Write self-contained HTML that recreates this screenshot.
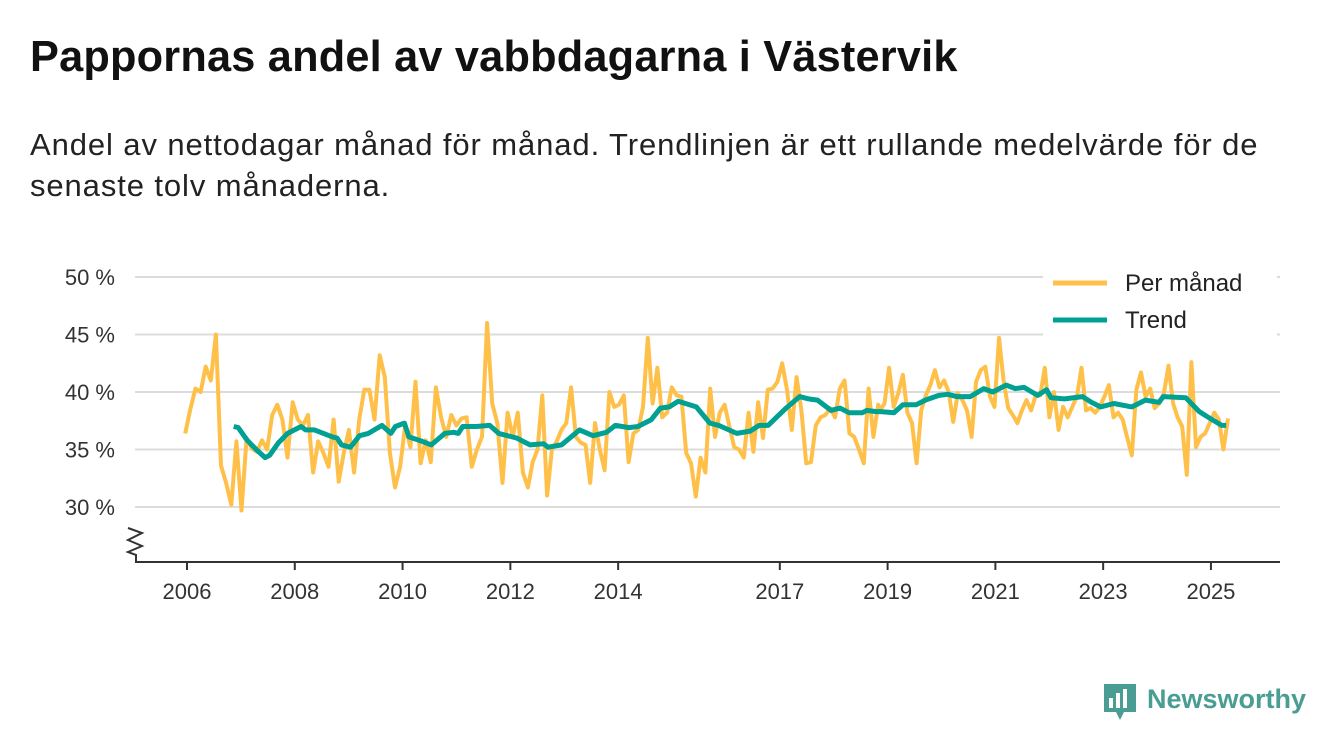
<!DOCTYPE html>
<html><head><meta charset="utf-8">
<style>
body{margin:0;background:#fff;width:1340px;height:753px;overflow:hidden;font-family:"Liberation Sans",sans-serif;}
#title{position:absolute;left:30px;top:33px;font-size:43.3px;font-weight:bold;color:#111;margin:0;letter-spacing:0.2px;white-space:nowrap}
#sub{position:absolute;left:30px;top:124px;font-size:31px;letter-spacing:0.9px;line-height:41px;color:#222;width:1300px;white-space:nowrap}
svg{position:absolute;left:0;top:0}
</style></head><body>
<h1 id="title">Pappornas andel av vabbdagarna i Västervik</h1>
<div id="sub">Andel av nettodagar månad för månad. Trendlinjen är ett rullande medelvärde för de<br>senaste tolv månaderna.</div>
<svg id="chart" width="1340" height="753"></svg>
<script>
// months counted from January 2006
const monthlyA = [36.4,38.5,40.3,40.0,42.2,41,45,33.6,32.1,30.2,35.7,29.7,36,35.1,34.8,35.8,35,38,38.9,37.6,34.3,39.1,37.6,37.1,38,33,35.7,34.7,33.5,37.6,32.2,34.7,36.7,33,37.6,40.2,40.2,37.6,43.2,41.3,34.7,31.7,33.5,37.1,35.2,40.9,33.8,35.8,33.9,40.4,37.8,36.1,38,37.1,37.7,37.8,33.5,35,36.1,46,39,37.3,32.1,38.2,36.1,38.2,33];
const monthlyAspan = [-0.4, 74.8];
const monthlyB = [31.7,33.9,35,39.7,31,35,35.7,36.7,37.3,40.4,36.1,35.6,35.4,32.1,37.3,35,33.2,40,38.7,38.9,39.7,33.9,36.4,36.7,38.7,44.7,39,42.1,37.8,38.2,40.4,39.7,39.6,34.7,33.8,30.9,34.3,33,40.3,36.1,38.2,38.9,37,35.2,35,34.3,38.2,34.8,39.1,36,40.2,40.3,40.9,42.5,40.2,36.7,41.3,38.4,33.8,33.9,37.1,37.8,38,38.6,37.8,40.3,41,36.4,36.1,35,33.8,40.3,36.1,38.9];
const monthlyBspan = [75.9, 153.9];
const monthlyC = [38.4,39,42.1,38.7,39.9,41.5,38.2,37.3,33.8,38.4,39.7,40.6,41.9,40.4,41,40,37.4,39.9,39.3,38.4,36.1,40.9,41.9,42.2,39.6,38.7,44.7,41,38.6,38,37.3,38.4,39.3,38.4,39.7,39.7,42.1,37.8,40,36.7,38.7,37.8,38.7,39.6,42.1,38.4,38.6,38.2,38.7,39.6,40.6,37.8,38.2,37.6,36,34.5,40.2,41.7,39.6,40.3,38.6,39,39.9,42.3,39,37.8,37,32.8,42.6,35.2,36.1,36.4,37.3,38.2,37.6,35,37.7];
const monthlyCspan = [154.3, 231.8];
const trendMonths = [11,12,14,16,18,19,21,23,26,27,29,31,33,34,35,37,39,41,44,46,47,49,50,53,55,58,60,61,62,65,68,70,74,76,
77,80,81,84,88,91,94,96,99,101,104,106,108,110,114,117,119,123,126,128,130,134,137,139,141,144,146,148,151,152,154,
155,158,160,163,165,168,170,172,175,178,180,183,185,187,190,192,193,196,200,202,204,207,211,214,217,218,223,226,228,231,232];
const trend = [37.0,36.9,35.8,35,34.3,34.5,35.6,36.4,37,36.7,36.7,36.4,36.1,36,35.4,35.2,36.2,36.4,37.1,36.4,37,37.3,36.1,35.7,35.4,36.4,36.5,36.4,37,37,37.1,36.4,36,35.6,
35.4,35.5,35.2,35.4,36.7,36.2,36.5,37.1,36.9,37,37.6,38.6,38.7,39.2,38.7,37.3,37.1,36.4,36.6,37.1,37.1,38.6,39.6,39.4,39.3,38.4,38.6,38.2,38.2,38.4,38.3,
38.3,38.2,38.9,38.9,39.3,39.7,39.8,39.6,39.6,40.3,40,40.6,40.3,40.4,39.7,40.2,39.5,39.4,39.6,39.1,38.7,39,38.7,39.3,39.1,39.6,39.5,38.3,37.8,37.1,37.1];
const yTicks = [30,35,40,45,50];
const xTickYears = [2006,2008,2010,2012,2014,2017,2019,2021,2023,2025];
const xTickLabels = ["2006","2008","2010","2012","2014","2017","2019","2021","2023","2025"];

const svg = document.getElementById('chart');
const NS = 'http://www.w3.org/2000/svg';
const xM = m => 187 + m * 4.491;
const xS = yr => xM((yr - 2006) * 12);
const yS = v => 277 + (50 - v) * 11.5;
function mk(tag, attrs){const e=document.createElementNS(NS,tag);for(const k in attrs)e.setAttribute(k,attrs[k]);svg.appendChild(e);return e;}

yTicks.forEach(t=>{
  const g=mk('line',{x1:135,x2:1280,y1:yS(t),y2:yS(t),stroke:'#dcdcdc','stroke-width':2});
  
  
  const l=mk('text',{x:115,y:yS(t)+8,'text-anchor':'end','font-size':22,fill:'#333'});
  l.textContent=t+' %';
  
  
});
const ax=mk('line',{x1:135,x2:1280,y1:562,y2:562,stroke:'#333','stroke-width':2});


const br=mk('path',{d:'M128,528 L142,533 L128,540 L142,546 L128,552 L136,555 L136,562',fill:'none',stroke:'#333','stroke-width':2});


xTickYears.forEach((yr,i)=>{
  const t=mk('line',{x1:xS(yr),x2:xS(yr),y1:562,y2:570,stroke:'#333','stroke-width':2});
  
  
  const l=mk('text',{x:xS(yr),y:599,'text-anchor':'middle','font-size':22,fill:'#333'});
  l.textContent=xTickLabels[i];
  
  
});
function segPts(arr,span){const st=(span[1]-span[0])/(arr.length-1);return arr.map((v,i)=>xM(span[0]+i*st).toFixed(1)+','+yS(v).toFixed(1));}
const mp=[].concat(segPts(monthlyA,monthlyAspan),segPts(monthlyB,monthlyBspan),segPts(monthlyC,monthlyCspan)).join(' ');
const m=mk('polyline',{points:mp,fill:'none',stroke:'#ffc04a','stroke-width':4,'stroke-linejoin':'round'});


const tp=trend.map((v,i)=>xM(trendMonths[i]-0.6).toFixed(1)+','+yS(v).toFixed(1)).join(' ');
const tr=mk('polyline',{points:tp,fill:'none',stroke:'#00a092','stroke-width':5,'stroke-linejoin':'round'});



const lb=mk('rect',{x:1043,y:263,width:234,height:74,fill:'#fff'});


[['Per månad','#ffc04a',283],['Trend','#00a092',320]].forEach(([n,c,y])=>{
  const s=mk('line',{x1:1053,x2:1107,y1:y,y2:y,stroke:c,'stroke-width':5});
  
  
  const t=mk('text',{x:1125,y:y+8,'font-size':24,fill:'#222'});
  t.textContent=n;
  
  
});

const logo=mk('g',{});


logo.innerHTML='<path d="M1104,684 h32 v28 h-12 l-4,8 l-4,-8 h-12 z" fill="#4a9d92"/><rect x="1109" y="698" width="4" height="10" fill="#fff"/><rect x="1116" y="693" width="4" height="15" fill="#fff"/><rect x="1123" y="689" width="4" height="19" fill="#fff"/><text x="1147" y="708" font-size="27" font-weight="bold" fill="#4a9d92">Newsworthy</text>';
</script>
</body></html>
